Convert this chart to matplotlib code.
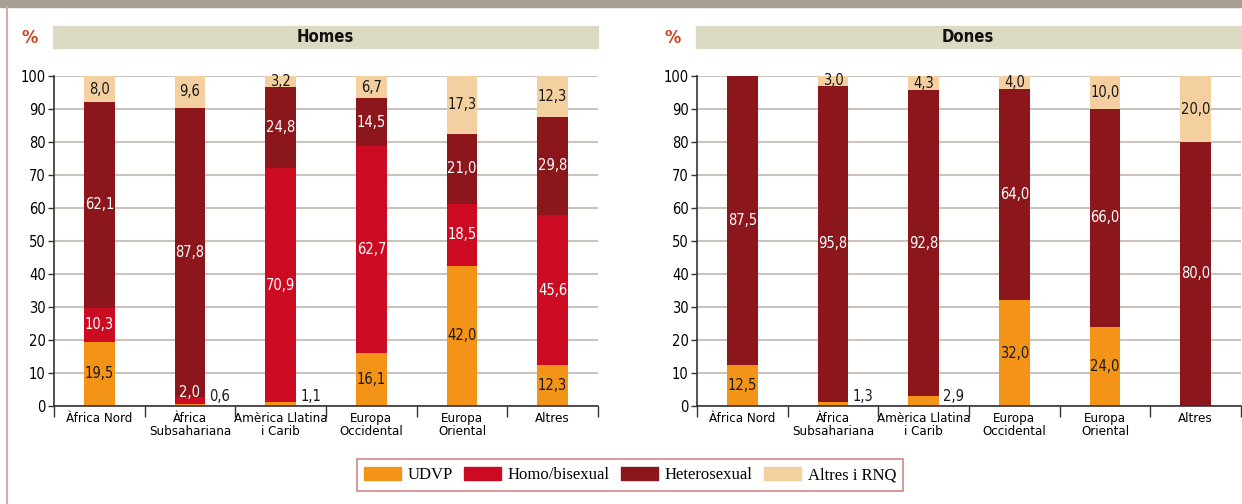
import numpy as np
import matplotlib.pyplot as plt
from matplotlib.patches import Rectangle

# categories and stacked shares (%)
regions = ["Àfrica Nord", "Àfrica\nSubsahariana", "Amèrica Llatina\ni Carib",
           "Europa\nOccidental", "Europa\nOriental", "Altres"]
groups = ["UDVP", "Homo/bisexual", "Heterosexual", "Altres i RNQ"]

homes_udvp = [19.5, 0.6, 1.1, 16.1, 42.0, 12.3]
homes_homo = [10.3, 2.0, 70.9, 62.7, 18.5, 45.6]
homes_hetero = [62.1, 87.8, 24.8, 14.5, 21.0, 29.8]
homes_altres = [8.0, 9.6, 3.2, 6.7, 17.3, 12.3]

dones_udvp = [12.5, 1.3, 2.9, 32.0, 24.0, 0.0]
dones_homo = [0.0, 0.0, 0.0, 0.0, 0.0, 0.0]
dones_hetero = [87.5, 95.8, 92.8, 64.0, 66.0, 80.0]
dones_altres = [0.0, 3.0, 4.3, 4.0, 10.0, 20.0]

colors = ["#f39419", "#cc0a22", "#8b161c", "#f4cfa0"]
txt_colors = ["#1a1a1a", "white", "white", "#1a1a1a"]

W, H = 1242, 504
plt.rcParams['font.family'] = ['DejaVu Sans']
plt.rcParams['font.stretch'] = 'condensed'
fig = plt.figure(figsize=(W / 100, H / 100), dpi=100)

# decorations: top grey band and pink left rule
fig.patches.append(Rectangle((0, 1 - 7 / H), 1, 7 / H, transform=fig.transFigure,
                             color="#a79f93", zorder=0))
fig.lines.append(plt.Line2D([6.5 / W, 6.5 / W], [0, 1 - 7 / H], transform=fig.transFigure,
                            color="#d9a9a9", lw=1.5))


def fmt(v):
    return f"{v:.1f}".replace(".", ",")


def panel(x0, title, series):
    ax = fig.add_axes([x0 / W, 98 / H, 544 / W, 330 / H])
    x = np.arange(len(regions))
    data = np.array(series, dtype=float)
    scale = 100.0 / data.sum(axis=0)   # stacks drawn to full height
    bottom = np.zeros(len(regions))
    for k, vals in enumerate(data):
        hts = vals * scale
        ax.bar(x, hts, 0.34, bottom=bottom, color=colors[k], zorder=3)
        for i, v in enumerate(vals):
            if v == 0:
                continue
            if k == 0 and v < 5:
                ax.text(i + 0.33, 3, fmt(v), ha="center", va="center",
                        fontsize=10.5, color="#1a1a1a")
            elif k in (1, 2) and v < 3:
                ax.text(i, bottom[i] + hts[i] + 1.4, fmt(v), ha="center",
                        va="center", fontsize=10.5, color=txt_colors[k], zorder=4)
            else:
                ax.text(i, bottom[i] + hts[i] / 2, fmt(v), ha="center", va="center",
                        fontsize=10.5, color=txt_colors[k], zorder=4, clip_on=False)
        bottom += hts

    ax.set_xlim(-0.5, len(regions) - 0.5)
    ax.set_ylim(0, 100)
    ax.set_yticks(np.arange(0, 101, 10))
    ax.tick_params(axis="y", labelsize=10.5, length=4, width=1, color="#333333", pad=2)
    ax.set_xticks(np.arange(-0.5, len(regions), 1.0))
    ax.set_xticklabels([])
    ax.tick_params(axis="x", which="major", length=8, width=1, color="#333333")
    ax.set_xticks(x, minor=True)
    ax.set_xticklabels(regions, minor=True, fontsize=9.5, linespacing=1.0)
    ax.tick_params(axis="x", which="minor", length=0, pad=4)
    ax.grid(axis="y", color="#c9c5bd", lw=1.5, zorder=0)
    for s in ["top", "right"]:
        ax.spines[s].set_visible(False)
    for s in ["left", "bottom"]:
        ax.spines[s].set_color("#333333")
        ax.spines[s].set_linewidth(1.2)
        ax.spines[s].set_zorder(5)

    # header band
    fig.patches.append(Rectangle(((x0 - 1) / W, 1 - 48 / H), 545 / W, 22 / H,
                                 transform=fig.transFigure, color="#dddac4", zorder=0))
    fig.text((x0 + 271) / W, 1 - 37 / H, title, ha="center", va="center",
             fontsize=12, fontweight="bold", color="#111111")
    fig.text((x0 - 24) / W, 1 - 38 / H, "%", ha="center", va="center",
             fontsize=13, fontweight="bold", color="#c8401e")
    return ax


panel(54, "Homes", [homes_udvp, homes_homo, homes_hetero, homes_altres])
panel(697, "Dones", [dones_udvp, dones_homo, dones_hetero, dones_altres])

handles = [Rectangle((0, 0), 1, 1, color=c) for c in colors]
leg = fig.legend(handles, groups, loc="center", bbox_to_anchor=(630 / W, 1 - 475 / H),
                 ncol=4, frameon=True, fancybox=False, handlelength=2.2, handleheight=0.8,
                 handletextpad=0.4, columnspacing=0.7, borderpad=0.45,
                 prop={"family": "Liberation Serif", "size": 12})
leg.get_frame().set_edgecolor("#c86a6a")
leg.get_frame().set_linewidth(1.2)

fig.savefig("out.png", dpi=100)
